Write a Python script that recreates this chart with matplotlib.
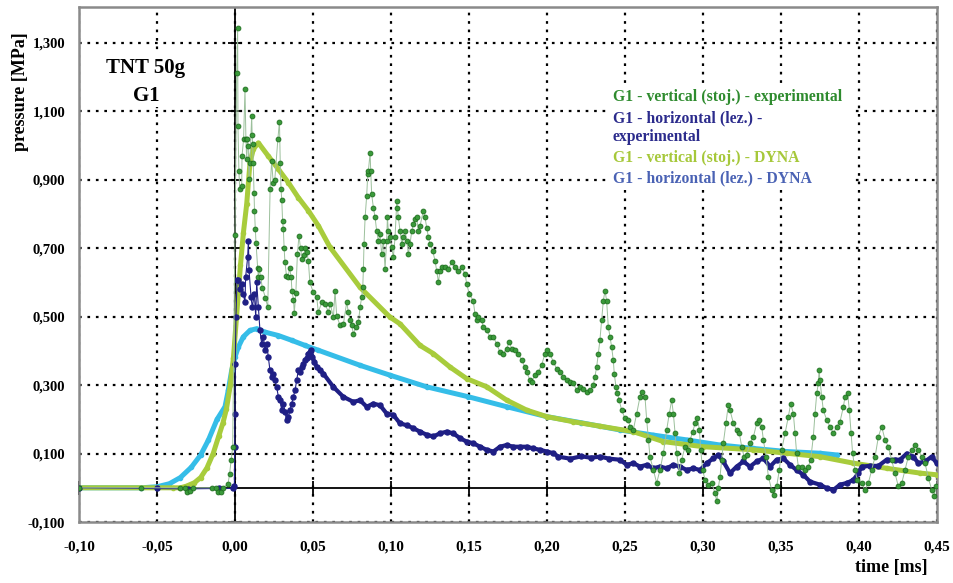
import numpy as np
import matplotlib
matplotlib.use("Agg")
import matplotlib.pyplot as plt
from matplotlib.ticker import FuncFormatter
from matplotlib.patches import Rectangle

plt.rcParams['font.family'] = ['Liberation Serif', 'DejaVu Serif']
plt.rcParams['font.weight'] = 'bold'

# G1 - vertical (stoj.) - experimental
vexp_t = [-0.10, -0.06, -0.035, -0.032, -0.031, -0.029, -0.027, -0.015, -0.012, -0.011, -0.009, -0.008,
          -0.0045, -0.0035, -0.0025, -0.0015, 0.0, 0.0011, 0.0017, 0.0019, 0.0025, 0.003, 0.0043, 0.0045,
          0.0055, 0.0064, 0.007, 0.0075, 0.008, 0.0085, 0.009, 0.0095, 0.0107, 0.011, 0.0113, 0.0117,
          0.0122, 0.0125, 0.013, 0.0135, 0.0145, 0.015, 0.0155, 0.0165, 0.0175, 0.0195, 0.021, 0.0225,
          0.0235, 0.0245, 0.0255, 0.0275, 0.0285, 0.029, 0.0295, 0.030, 0.0305, 0.031, 0.0315, 0.032,
          0.033, 0.034, 0.035, 0.036, 0.0365, 0.0375, 0.038, 0.039, 0.040, 0.041, 0.042, 0.043, 0.044,
          0.045, 0.046, 0.047, 0.048, 0.0502, 0.0524, 0.0534, 0.0556, 0.0577, 0.0599, 0.061, 0.0631,
          0.0641, 0.0652, 0.0673, 0.0695, 0.0716, 0.0727, 0.0737, 0.0748, 0.0759, 0.0776, 0.0791, 0.0802,
          0.0812, 0.0819, 0.0823, 0.0827, 0.0834, 0.0844, 0.0851, 0.0855, 0.0866, 0.0870, 0.0876, 0.0887,
          0.0898, 0.0908, 0.0919, 0.0930, 0.0940, 0.0951, 0.0962, 0.0972, 0.0977, 0.0983, 0.0994, 0.1005,
          0.1015, 0.1026, 0.1037, 0.1041, 0.1047, 0.1058, 0.1069, 0.1079, 0.1090, 0.1101, 0.1111, 0.1122,
          0.1133, 0.1143, 0.1154, 0.1165, 0.1175, 0.1186, 0.1207, 0.1218, 0.1229, 0.1240, 0.1250, 0.1267,
          0.1282, 0.1293, 0.1304, 0.1314, 0.1325, 0.1346, 0.1368, 0.1389, 0.1410, 0.1432, 0.1453, 0.1475,
          0.1485, 0.1502, 0.1527, 0.1538, 0.1549, 0.1560, 0.1581, 0.1592, 0.1613, 0.1634, 0.1656, 0.1677,
          0.1698, 0.1720, 0.1741, 0.1758, 0.1773, 0.1795, 0.1816, 0.1837, 0.1859, 0.1869, 0.1891, 0.1901,
          0.1923, 0.1944, 0.1965, 0.1987, 0.2002, 0.2019, 0.2040, 0.2062, 0.2083, 0.2104, 0.2126, 0.2147,
          0.2169, 0.2190, 0.2211, 0.2233, 0.2254, 0.2275, 0.2297, 0.2307, 0.2318, 0.2329, 0.2339, 0.2350,
          0.2361, 0.2372, 0.2382, 0.2393, 0.2404, 0.2414, 0.2425, 0.2431, 0.2442, 0.2451, 0.2463, 0.2478,
          0.2500, 0.2521, 0.2532, 0.2553, 0.2575, 0.2596, 0.2607, 0.2628, 0.2639, 0.2650, 0.2660, 0.2682,
          0.2703, 0.2724, 0.2746, 0.2767, 0.2784, 0.2799, 0.2810, 0.2821, 0.2831, 0.2848, 0.2863, 0.2885,
          0.2906, 0.2917, 0.2934, 0.2949, 0.2964, 0.2977, 0.2985, 0.2998, 0.3013, 0.3034, 0.3056, 0.3077,
          0.3088, 0.3098, 0.3109, 0.3120, 0.3130, 0.3147, 0.3162, 0.3173, 0.3195, 0.3216, 0.3233, 0.3248,
          0.3263, 0.3280, 0.3301, 0.3323, 0.3344, 0.3361, 0.3376, 0.3387, 0.3404, 0.3419, 0.3440, 0.3455,
          0.3472, 0.3489, 0.3504, 0.3526, 0.3547, 0.3562, 0.3579, 0.3590, 0.3600, 0.3611, 0.3632, 0.3654,
          0.3675, 0.3690, 0.3707, 0.3718, 0.3729, 0.3739, 0.3744, 0.3750, 0.3761, 0.3771, 0.3793, 0.3814,
          0.3836, 0.3857, 0.3878, 0.3900, 0.3910, 0.3927, 0.3938, 0.3949, 0.3959, 0.3974, 0.3989, 0.4017,
          0.4038, 0.4060, 0.4081, 0.4103, 0.4124, 0.4145, 0.4167, 0.4188, 0.4209, 0.4231, 0.4252, 0.4274,
          0.4295, 0.4316, 0.4338, 0.4359, 0.4380, 0.4402, 0.4423, 0.4445, 0.4466, 0.4481, 0.4494]
vexp_p = [0.0, 0.0, 0.0, 0.0, -0.012, -0.01, 0.0, 0.0, 0.0, -0.012, -0.012, 0.0,
          0.01, 0.04, 0.08, 0.12, 0.74, 1.212, 1.343, 1.057, 0.926, 0.873, 0.882, 0.969,
          1.019, 1.164, 1.02, 0.96, 1.019, 1.0, 0.902, 0.949, 1.086, 1.03, 1.004, 0.949,
          0.862, 0.81, 0.757, 0.716, 0.643, 0.615, 0.64, 0.615, 0.585, 0.556, 0.527, 0.873,
          0.955, 0.89, 0.9, 1.02, 1.07, 0.95, 0.873, 0.84, 0.78, 0.755, 0.70, 0.66,
          0.62, 0.615, 0.643, 0.615, 0.576, 0.55, 0.51, 0.57, 0.683, 0.737, 0.70, 0.67, 0.68,
          0.70, 0.69, 0.664, 0.60, 0.571, 0.557, 0.513, 0.542, 0.538, 0.513, 0.538, 0.499,
          0.576, 0.503, 0.475, 0.479, 0.542, 0.513, 0.489, 0.475, 0.450, 0.470, 0.484, 0.528,
          0.557, 0.586, 0.640, 0.712, 0.790, 0.853, 0.916, 0.926, 0.979, 0.926, 0.858, 0.819,
          0.790, 0.751, 0.722, 0.741, 0.683, 0.722, 0.640, 0.722, 0.790, 0.751, 0.732, 0.703,
          0.673, 0.732, 0.838, 0.819, 0.790, 0.751, 0.712, 0.732, 0.751, 0.722, 0.683, 0.712,
          0.751, 0.770, 0.785, 0.790, 0.751, 0.765, 0.809, 0.790, 0.760, 0.732, 0.712, 0.693,
          0.664, 0.634, 0.601, 0.634, 0.644, 0.644, 0.640, 0.659, 0.644, 0.634, 0.644, 0.625,
          0.596, 0.566, 0.547, 0.509, 0.489, 0.499, 0.489, 0.470, 0.460, 0.441, 0.441, 0.421,
          0.397, 0.392, 0.407, 0.426, 0.407, 0.402, 0.392, 0.373, 0.353, 0.339, 0.314, 0.310,
          0.329, 0.339, 0.358, 0.392, 0.402, 0.392, 0.368, 0.348, 0.339, 0.324, 0.314, 0.310,
          0.305, 0.285, 0.295, 0.290, 0.280, 0.285, 0.300, 0.324, 0.353, 0.392, 0.431, 0.489,
          0.547, 0.576, 0.547, 0.470, 0.441, 0.412, 0.373, 0.334, 0.295, 0.276, 0.256, 0.227,
          0.203, 0.198, 0.179, 0.169, 0.217, 0.266, 0.280, 0.266, 0.198, 0.140, 0.091, 0.052,
          0.014, 0.052, 0.101, 0.169, 0.217, 0.256, 0.217, 0.159, 0.101, 0.043, 0.082, 0.120,
          0.111, 0.140, 0.164, 0.188, 0.203, 0.169, 0.111, 0.052, 0.023, 0.009, 0.014, -0.016,
          -0.040, -0.001, 0.033, 0.082, 0.130, 0.188, 0.242, 0.227, 0.188, 0.169, 0.159, 0.120,
          0.091, 0.096, 0.130, 0.149, 0.188, 0.198, 0.179, 0.140, 0.091, 0.033, -0.006, -0.020,
          0.004, 0.052, 0.111, 0.159, 0.208, 0.246, 0.217, 0.159, 0.101, 0.062, 0.062, 0.052,
          0.062, 0.082, 0.149, 0.217, 0.276, 0.305, 0.344, 0.314, 0.266, 0.227, 0.198, 0.179,
          0.159, 0.179, 0.193, 0.237, 0.266, 0.276, 0.227, 0.159, 0.101, 0.052, 0.023, 0.014,
          -0.006, 0.014, 0.052, 0.091, 0.149, 0.179, 0.140, 0.120, 0.082, 0.043, 0.004, 0.014,
          0.052, 0.091, 0.111, 0.125, 0.111, 0.091, 0.072, 0.028, -0.006, -0.025, 0.004]

# G1 - horizontal (lez.) - experimental
hexp_t = [-0.10, -0.05, -0.03, -0.01, -0.001, -0.0004, -0.0002, 0.0, 0.0002, 0.0006, 0.0013,
          0.0021, 0.0032, 0.0043, 0.0053, 0.0064, 0.0068, 0.0081, 0.0086, 0.0090, 0.0103, 0.0111,
          0.0124, 0.0133, 0.0139, 0.0150, 0.0160, 0.0171, 0.0182, 0.0192, 0.0203, 0.0214, 0.0224,
          0.0235, 0.0246, 0.0256, 0.0267, 0.0278, 0.0289, 0.0299, 0.0310, 0.0321, 0.0331, 0.0342,
          0.0353, 0.0363, 0.0374, 0.0385, 0.0395, 0.0406, 0.0417, 0.0427, 0.0438, 0.0449, 0.0459,
          0.0470, 0.0487, 0.0496, 0.0509, 0.0524, 0.0545, 0.0566, 0.0630, 0.0694, 0.0759, 0.0801,
          0.0844, 0.0887, 0.0930, 0.0972, 0.1015, 0.1058, 0.1100, 0.1143, 0.1186, 0.1229, 0.1271,
          0.1314, 0.1357, 0.1400, 0.1442, 0.1485, 0.1528, 0.1571, 0.1613, 0.1656, 0.1699, 0.1741,
          0.1784, 0.1827, 0.1870, 0.1912, 0.1955, 0.1998, 0.2041, 0.2073, 0.215, 0.222, 0.228,
          0.234, 0.240, 0.2468, 0.2511, 0.2553, 0.2596, 0.2639, 0.2682, 0.2724, 0.2767, 0.2810,
          0.2853, 0.2895, 0.2938, 0.2981, 0.3024, 0.3066, 0.3098, 0.3130, 0.3173, 0.3216, 0.3259,
          0.3301, 0.3344, 0.3387, 0.3430, 0.3472, 0.3515, 0.3558, 0.3600, 0.3643, 0.3686, 0.3750,
          0.3793, 0.3836, 0.3878, 0.3921, 0.3964, 0.3996, 0.4017, 0.4071, 0.4124, 0.4177, 0.4231,
          0.4263, 0.4306, 0.4348, 0.4380, 0.4423, 0.4466, 0.4498]
hexp_p = [0.0, -0.002, -0.003, -0.002, -0.002, 0.004, 0.12, 0.217, 0.363, 0.499, 0.606,
          0.606, 0.581, 0.596, 0.567, 0.542, 0.615, 0.673, 0.722, 0.635, 0.557, 0.528,
          0.567, 0.499, 0.601, 0.528, 0.460, 0.421, 0.441, 0.402, 0.421, 0.382, 0.344,
          0.324, 0.334, 0.314, 0.295, 0.266, 0.256, 0.227, 0.246, 0.222, 0.198, 0.208,
          0.227, 0.246, 0.266, 0.285, 0.314, 0.344, 0.339, 0.353, 0.363, 0.373, 0.378,
          0.392, 0.402, 0.382, 0.368, 0.353, 0.344, 0.334, 0.295, 0.266, 0.251, 0.256,
          0.237, 0.246, 0.241, 0.217, 0.213, 0.188, 0.183, 0.174, 0.164, 0.155, 0.150,
          0.159, 0.164, 0.159, 0.145, 0.135, 0.130, 0.120, 0.111, 0.106, 0.120, 0.125,
          0.120, 0.120, 0.120, 0.115, 0.111, 0.106, 0.101, 0.091, 0.085, 0.092, 0.088,
          0.091, 0.085, 0.082, 0.067, 0.072, 0.062, 0.067, 0.057, 0.062, 0.057, 0.067,
          0.062, 0.052, 0.057, 0.052, 0.072, 0.086, 0.096, 0.077, 0.043, 0.062, 0.077,
          0.062, 0.077, 0.086, 0.062, 0.082, 0.086, 0.067, 0.052, 0.038, 0.018, 0.009,
          -0.001, -0.006, 0.009, 0.014, 0.023, 0.043, 0.062, 0.064, 0.064, 0.082, 0.082,
          0.082, 0.100, 0.091, 0.072, 0.077, 0.091, 0.072]

# G1 - vertical (stoj.) - DYNA
vdyna_t = [-0.10, -0.04, -0.035, -0.031, -0.026, -0.022, -0.018, -0.014, -0.0105, -0.0077, -0.0055,
           -0.003, -0.001, 0.001, 0.0035, 0.0054, 0.0075, 0.0096, 0.0118, 0.015, 0.0214, 0.0278,
           0.0342, 0.0406, 0.047, 0.0534, 0.0609, 0.0801, 0.0993, 0.1058, 0.1186, 0.1272, 0.1378,
           0.1485, 0.1614, 0.1742, 0.1870, 0.1998, 0.2169, 0.2340, 0.2554, 0.2746, 0.3002, 0.3323,
           0.3536, 0.3750, 0.3964, 0.4177, 0.4391, 0.4498]
vdyna_p = [0.0, 0.0, 0.0, 0.005, 0.015, 0.03, 0.058, 0.10, 0.15, 0.19, 0.23,
           0.30, 0.38, 0.50, 0.65, 0.746, 0.829, 0.95, 0.99, 1.008, 0.969, 0.931,
           0.892, 0.848, 0.81, 0.766, 0.703, 0.586, 0.499, 0.479, 0.416, 0.392, 0.353,
           0.319, 0.295, 0.256, 0.227, 0.208, 0.193, 0.180, 0.164, 0.135, 0.120, 0.111,
           0.101, 0.091, 0.072, 0.057, 0.043, 0.038]

# G1 - horizontal (lez.) - DYNA
hdyna_t = [-0.10, -0.06, -0.05, -0.042, -0.035, -0.028, -0.022, -0.017, -0.0115, -0.0064, -0.0043,
           -0.0021, 0.0, 0.0021, 0.0053, 0.0096, 0.0139, 0.0192, 0.0278, 0.0363, 0.0449, 0.0534,
           0.0801, 0.0994, 0.1229, 0.1496, 0.1741, 0.1998, 0.222, 0.2468, 0.2682, 0.2895, 0.3109,
           0.3323, 0.3536, 0.3750, 0.3857]
hdyna_p = [0.0, 0.0, 0.003, 0.012, 0.03, 0.06, 0.096, 0.14, 0.20, 0.237, 0.285,
           0.344, 0.382, 0.411, 0.441, 0.460, 0.465, 0.455, 0.445, 0.431, 0.416, 0.402,
           0.358, 0.329, 0.295, 0.266, 0.237, 0.208, 0.19, 0.169, 0.154, 0.140, 0.125,
           0.115, 0.106, 0.101, 0.096]

xticks = np.arange(-0.10, 0.451, 0.05)
yticks = np.arange(-0.1, 1.31, 0.2)

legend_labels = ["G1 - vertical (stoj.) - experimental",
                 "G1 - horizontal (lez.) -\nexperimental",
                 "G1 - vertical (stoj.) - DYNA",
                 "G1 - horizontal (lez.) - DYNA"]
legend_colors = ["#2e8b2e", "#2b2b8c", "#a6c83a", "#4a62b4"]

fig = plt.figure(figsize=(9.54, 5.83), dpi=100)
ax = fig.add_axes([0.0828, 0.1046, 0.8994, 0.8834])

ax.plot(hdyna_t, hdyna_p, color="#35bde8", lw=3.6, marker="o", ms=3, zorder=3)
ax.plot(vdyna_t, vdyna_p, color="#a8cc3c", lw=3.6, marker="o", ms=3, zorder=4)

# horizontal experimental: dotted early part, thick dense trace later
ht = np.array(hexp_t)
hp = np.array(hexp_p)
late = ht >= 0.047
ax.plot(ht, hp, color="#1f1f85", lw=0.8, marker="o", ms=3.6, zorder=5)
ax.plot(ht[late], hp[late], color="#1f1f85", lw=3.0, zorder=5)

ax.plot(vexp_t, vexp_p, color="#9cc09c", lw=0.7, marker="o", ms=3.5,
        mfc="#3a9a3a", mec="#1f6f1f", mew=0.6, zorder=6)

ax.set_xlim(-0.10, 0.45)
ax.set_ylim(-0.1, 1.405)
ax.set_xticks(xticks)
ax.set_yticks(yticks)
ax.xaxis.set_major_formatter(FuncFormatter(lambda v, p: f"{v:.2f}".replace(".", ",").replace("-0,00", "0,00")))
ax.yaxis.set_major_formatter(FuncFormatter(lambda v, p: f"{v:.3f}".replace(".", ",")))
ax.tick_params(axis="both", length=0)
ax.tick_params(axis="x", labelsize=11, pad=13)
ax.tick_params(axis="y", labelsize=10.5, pad=10)
for lab in ax.get_xticklabels() + ax.get_yticklabels():
    lab.set_fontweight("bold")

ax.set_axisbelow(True)
ax.grid(True, color="black", linestyle=(0, (1.2, 2.6)), linewidth=1.6)
for s in ax.spines.values():
    s.set_color("#8a8a8a")
    s.set_linewidth(1.8)

ax.axvline(0, color="black", lw=1.3, zorder=2)
ax.axhline(0, color="black", lw=1.3, zorder=2)
ax.plot(xticks, np.zeros_like(xticks), ls="none", marker="|", ms=10, mew=1.3, color="black", zorder=2, clip_on=False)
ax.plot(np.zeros_like(yticks), yticks, ls="none", marker="_", ms=10, mew=1.3, color="black", zorder=2, clip_on=False)

# white boxes behind the title and legend (grid hidden there)
ax.add_patch(Rectangle((0.024, 0.805), 0.108, 0.105, transform=ax.transAxes,
                       facecolor="white", edgecolor="none", zorder=1.5))
ax.add_patch(Rectangle((0.619, 0.645), 0.282, 0.204, transform=ax.transAxes,
                       facecolor="white", edgecolor="none", zorder=1.5))

ax.text(0.078, 0.882, "TNT 50g", transform=ax.transAxes, ha="center", va="center",
        fontsize=15, fontweight="bold", zorder=7)
ax.text(0.078, 0.827, "G1", transform=ax.transAxes, ha="center", va="center",
        fontsize=15, fontweight="bold", zorder=7)

leg_y = [0.825, 0.765, 0.707, 0.668]
for lab, col, yy in zip(legend_labels, legend_colors, leg_y):
    ax.text(0.622, yy, lab, transform=ax.transAxes, ha="left", va="center",
            fontsize=11.3, fontweight="bold", color=col, linespacing=1.22, zorder=7)

fig.text(0.021, 0.842, "pressure [MPa]", rotation=90, ha="center", va="center",
         fontsize=13, fontweight="bold")
fig.text(0.934, 0.026, "time [ms]", ha="center", va="center", fontsize=13, fontweight="bold")

fig.savefig("out.png", dpi=100, facecolor="white")
